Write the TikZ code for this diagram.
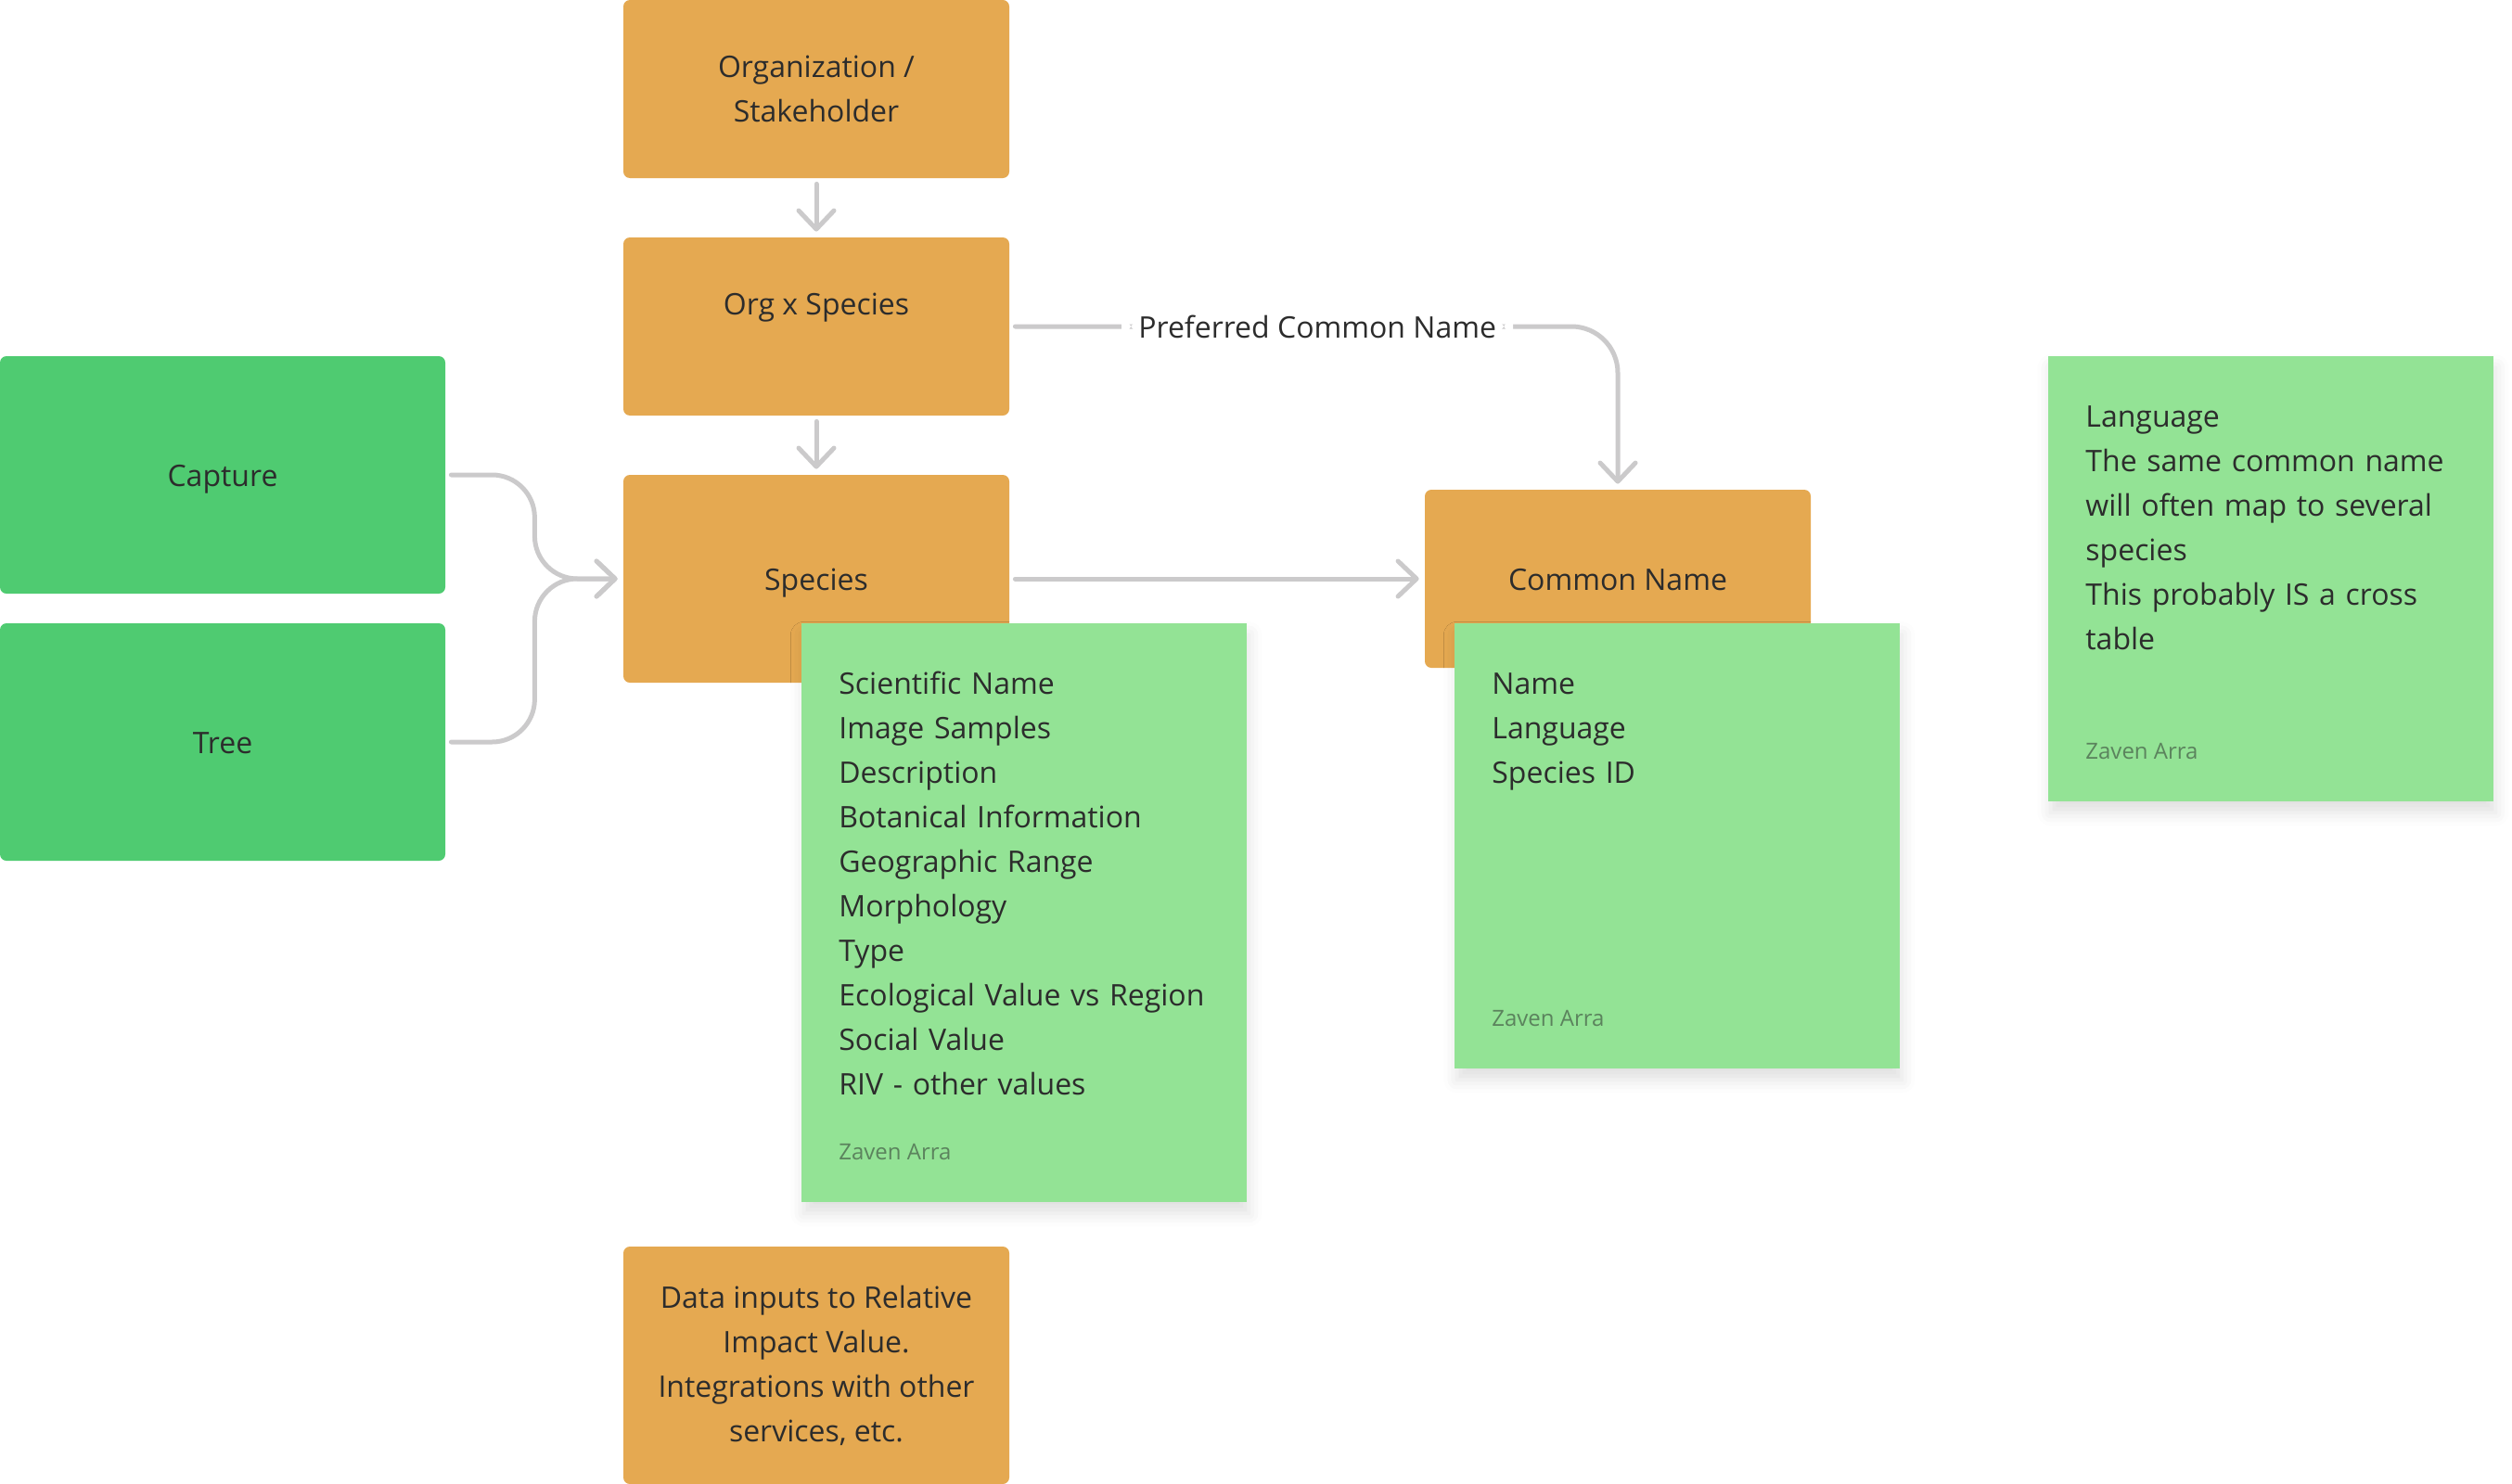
\documentclass[tikz,border=0pt]{standalone}
\usepackage{fontspec}
\setmainfont{Open Sans}
\usetikzlibrary{arrows.meta,
				shadows.blur}
\definecolor{boxorange}{HTML}{E5A951}
\definecolor{boxgreen}{HTML}{4FCB71}
\definecolor{notegreen}{HTML}{93E395}
\definecolor{linkgray}{HTML}{CBCACB}
\definecolor{inkgray}{HTML}{2C2C2C}
\definecolor{authorgray}{HTML}{5B835D}
\tikzset{
	entity/.style={fill=boxorange, rounded corners=3.5pt, minimum width=208pt, inner sep=0pt, align=center, text=inkgray, font=\fontsize{16}{24}\selectfont},
	oneline/.style={text height=12pt, text depth=0pt},
	source/.style={entity, oneline, fill=boxgreen, minimum width=240pt, minimum height=128pt},
	note/.style={fill=notegreen, minimum width=240pt, anchor=north west, inner sep=0pt, blur shadow={shadow xshift=1pt, shadow yshift=-6pt, shadow blur radius=7pt, shadow opacity=12}},
	notetext/.style={anchor=north west, inner sep=0pt, align=left, text width=215pt, text=inkgray, font=\fontsize{16}{24}\selectfont},
	author/.style={anchor=base west, inner sep=0pt, text=authorgray, font=\fontsize{12}{16}\selectfont},
	linklabel/.style={fill=white, inner sep=0pt, minimum width=211pt, minimum height=20pt, text=inkgray, font=\fontsize{16}{24}\selectfont},
	link/.style={draw=linkgray, line width=2.5pt, line cap=round, rounded corners=23pt, -{Straight Barb[length=10pt,width=19pt,round]}, shorten <=3pt, shorten >=3pt}
}
\begin{document}
\begin{tikzpicture}[x=1pt,y=-1pt]
		\useasboundingbox (0,0) rectangle (1354,800);
		\node[entity, minimum height=96pt] (org) at (440,48) {Organization /\\Stakeholder};
		\node[entity, minimum height=96pt] (orgsp) at (440,176) {Org x Species\\\mbox{}};
		\node[entity, oneline, minimum height=112pt] (sp) at (440,312) {Species};
		\node[entity, oneline, minimum height=96pt] (cn) at (872,312) {Common Name};
		\node[entity, minimum height=128pt] (riv) at (440,736) {Data inputs to Relative\\Impact Value.\\Integrations with other\\services, etc.};
		\node[source] (cap) at (120,256) {Capture};
		\node[source] (tree) at (120,400) {Tree};
		\draw[link] (org) -- (orgsp);
		\draw[link] (orgsp) -- (sp);
		\draw[link] (sp) -- (cn);
		\draw[link] (cap.east) -- ++(48,0) |- (sp.west);
		\draw[link] (tree.east) -- ++(48,0) |- (sp.west);
		\draw[link, rounded corners=25pt] (orgsp.east) -| node[linklabel, pos=0.25, xshift=2pt] (pcn) {Preferred Common Name} (cn.north);
		\node[note, minimum height=312pt] (spnote) at (432,336) {};
		\node[notetext] (sptext) at ([shift={(20,21)}]spnote.north west) {\strut Scientific Name\\Image Samples\\Description\\Botanical Information\\Geographic Range\\Morphology\\Type\\Ecological Value vs Region\\Social Value\\RIV - other values};
		\node[author] (spauth) at ([shift={(20,-23)}]spnote.south west) {Zaven Arra};
		\node[note, minimum height=240pt] (cnnote) at (784,336) {};
		\node[notetext] (cntext) at ([shift={(20,21)}]cnnote.north west) {\strut Name\\Language\\Species ID};
		\node[author] (cnauth) at ([shift={(20,-23)}]cnnote.south west) {Zaven Arra};
		\node[note, minimum height=240pt] (lgnote) at (1104,192) {};
		\node[notetext] (lgtext) at ([shift={(20,21)}]lgnote.north west) {\strut Language\\The same common name\\will often map to several\\species\\This probably IS a cross\\table};
		\node[author] (lgauth) at ([shift={(20,-23)}]lgnote.south west) {Zaven Arra};
	\end{tikzpicture}
\end{document}
